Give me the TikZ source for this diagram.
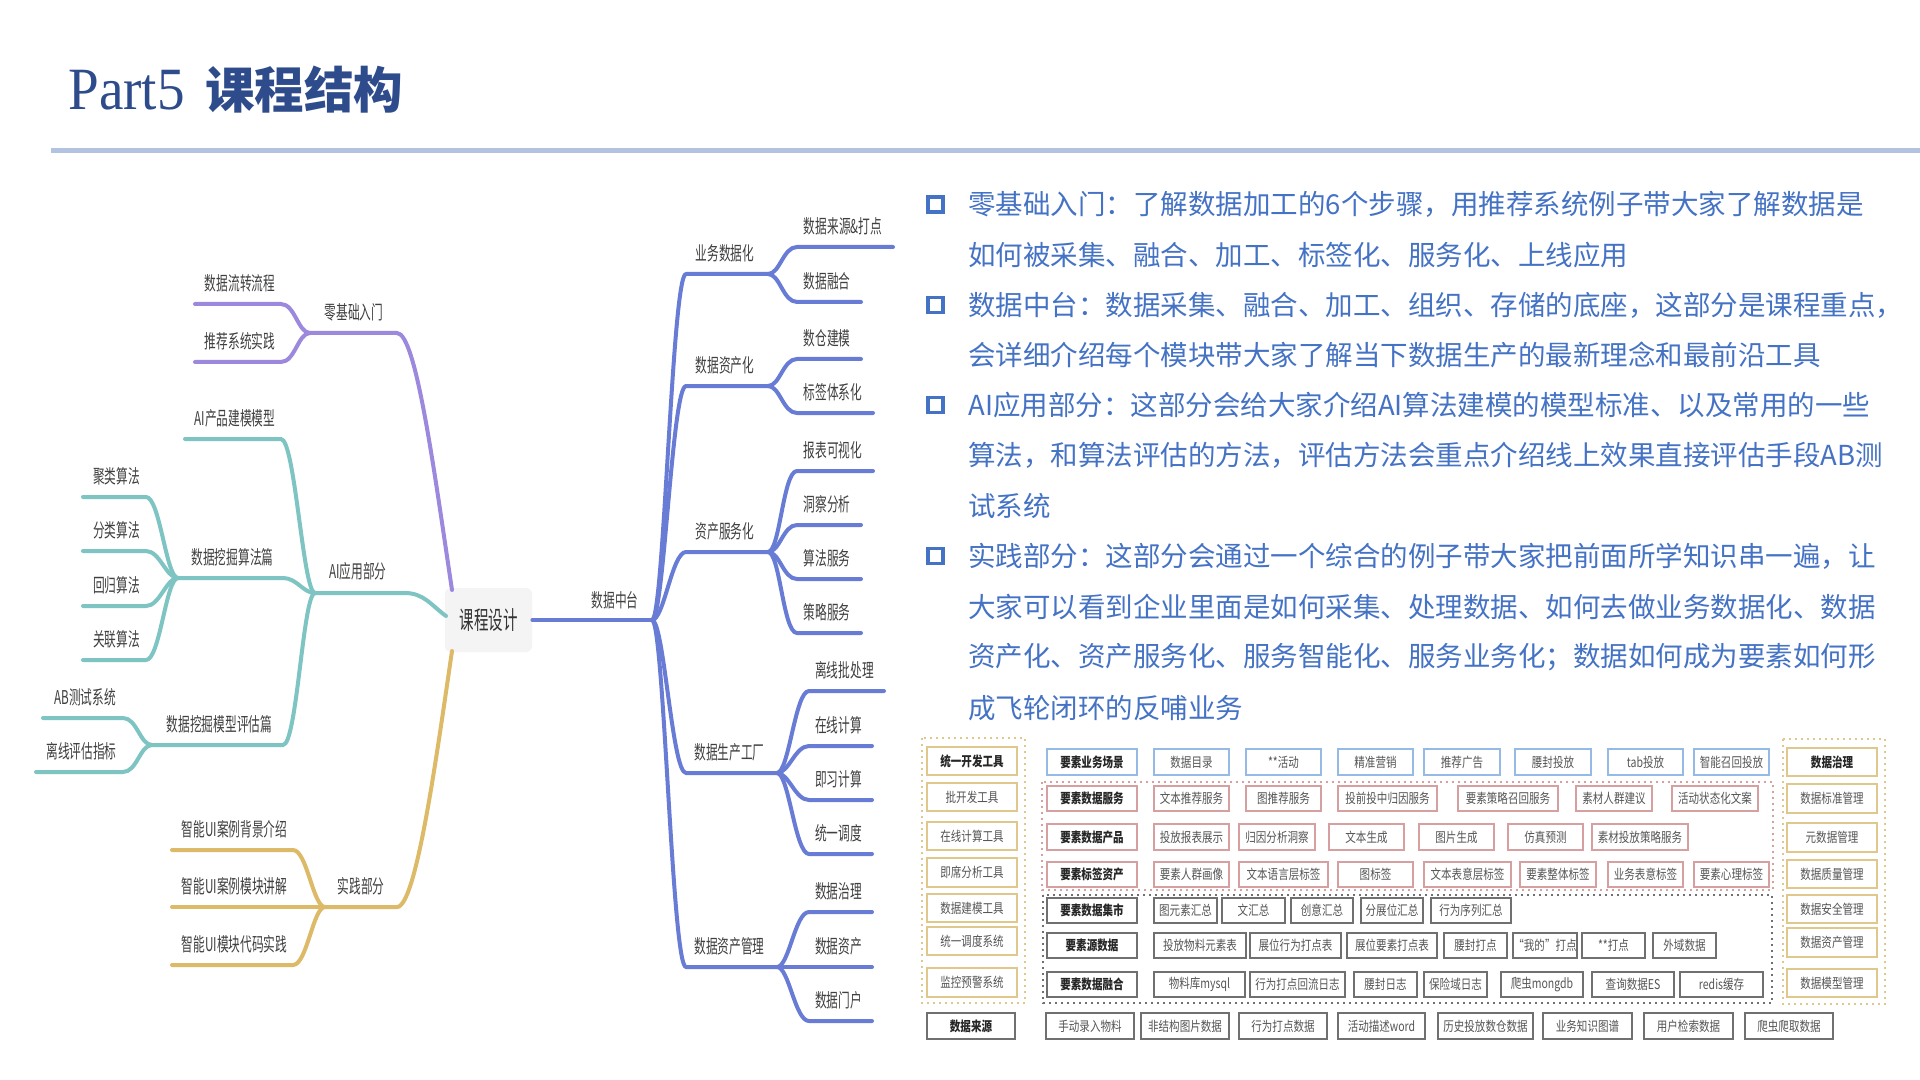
\documentclass[tikz,border=0pt]{standalone}
\usepackage{fontspec}
\setmainfont{Noto Sans CJK SC}
\newfontfamily\cjk{Noto Sans CJK SC}
\newfontfamily\mmfont[FakeStretch=0.615]{Noto Sans CJK SC}
\newfontfamily\rootfont[FakeStretch=0.58]{Noto Sans CJK SC}
\newfontfamily\gridfont[FakeStretch=0.78]{Noto Sans CJK SC}
\newfontfamily\titleserif[FakeStretch=0.92]{Liberation Serif}

\definecolor{titleblue}{RGB}{46,76,140}
\definecolor{rulecol}{RGB}{178,194,225}
\definecolor{txtblue}{RGB}{68,114,196}
\definecolor{mmpurple}{RGB}{156,137,221}
\definecolor{mmteal}{RGB}{126,196,194}
\definecolor{mmgold}{RGB}{221,186,104}
\definecolor{mmblue}{RGB}{104,124,214}
\definecolor{mmtext}{RGB}{64,64,64}
\definecolor{rootgray}{RGB}{244,244,244}
\definecolor{gbgold}{RGB}{224,200,140}
\definecolor{gbblue}{RGB}{150,186,230}
\definecolor{gbpink}{RGB}{214,160,160}
\definecolor{gbgray}{RGB}{112,112,112}
\definecolor{gbtext}{RGB}{85,85,85}

% grid box: name, style, x1, x2, y1, y2, text
\newcommand\gb[7]{%
  \pgfmathsetmacro\gbw{(#4-#3)*0.5}%
  \pgfmathsetmacro\gbh{(#6-#5)*0.5}%
  \node[#2, minimum width=\gbw pt, minimum height=\gbh pt] (#1) at ({(#3+#4)/2},{(#5+#6)/2}) {#7};}
% right leaf: fork, y, xstart, xend, name, label
\newcommand\rleaf[6]{%
  \coordinate (#5) at (#4,#2);
  \draw[lnB] (#1) .. controls +(12,0) and +(-14,0) .. (#3+4,#2) -- (#5);
  \node[mmlab] (#5-l) at ({(#3+#4)/2},#2-21) {#6};}
% left leaf: style, fork, y, xleft, xright, name, label
\newcommand\lleaf[7]{%
  \coordinate (#6) at (#4,#3);
  \draw[#1] (#2) .. controls +(-12,0) and +(14,0) .. (#5-4,#3) -- (#6);
  \node[mmlab] (#6-l) at ({(#4+#5)/2},#3-21) {#7};}

\begin{document}
\begin{tikzpicture}[x=0.5pt,y=-0.5pt,
  mmline/.style={line width=2pt, line cap=round, line join=round},
  lnP/.style={mmline, draw=mmpurple},
  lnT/.style={mmline, draw=mmteal},
  lnG/.style={mmline, draw=mmgold},
  lnB/.style={mmline, draw=mmblue},
  mmlab/.style={font=\mmfont\fontsize{9.5}{11}\selectfont, text=mmtext, inner sep=0pt},
  bodytxt/.style={anchor=west, inner sep=0pt, font=\cjk\fontsize{13.75}{16}\selectfont, text=txtblue},
  bulletbox/.style={draw=txtblue, line width=1.7pt, minimum size=7.5pt, inner sep=0pt},
  gbase/.style={rectangle, inner sep=0pt, font=\gridfont\fontsize{6.75}{8}\selectfont, text=gbtext, line width=1pt},
  bxgold/.style={gbase, draw=gbgold},
  bxblue/.style={gbase, draw=gbblue},
  bxpink/.style={gbase, draw=gbpink},
  bxgray/.style={gbase, draw=gbgray},
  bxhead/.style={font=\gridfont\bfseries\fontsize{6.75}{8}\selectfont, text=black!85},
  dotbox/.style={line width=1pt, dash pattern=on 1pt off 2pt}
]
\useasboundingbox (0,0) rectangle (1920,1080);
\fill[white] (0,0) rectangle (1920,1080);

% ---------- title ----------
\node[anchor=base west, inner sep=0pt, text=titleblue, font=\titleserif\fontsize{30}{34}\selectfont] (tpart) at (68,110) {Part5};
\node[anchor=base west, inner sep=0pt, text=titleblue, font=\cjk\bfseries\fontsize{24.75}{30}\selectfont] (tcn) at (205,109) {课程结构};
\coordinate (ruleL) at (51,151);
\coordinate (ruleR) at (1920,151);
\draw[rulecol, line width=2.5pt] (ruleL) -- (ruleR);

% ---------- mind map ----------
\node[fill=rootgray, rounded corners=3pt, minimum width=43.5pt, minimum height=32pt, inner sep=0pt,
      font=\rootfont\fontsize{12.5}{14}\selectfont, text=black!80] (root) at (488.5,620) {课程设计};
\coordinate (rootP) at (452,590);
\coordinate (rootT) at (446,616);
\coordinate (rootG) at (452,651);

% blue side
\coordinate (bF) at (652,620);
\draw[lnB] (root.east) -- (bF);
\node[mmlab] (bL) at (615,600) {数据中台};
\rleaf{bF}{274}{682}{768}{bA}{业务数据化}
\rleaf{bF}{386}{682}{768}{bB}{数据资产化}
\rleaf{bF}{552}{682}{768}{bC}{资产服务化}
\rleaf{bF}{773}{682}{777}{bD}{数据生产工厂}
\rleaf{bF}{967}{682}{777}{bE}{数据资产管理}
\rleaf{bA}{247}{793}{893}{bA1}{数据来源\&打点}
\rleaf{bA}{302}{793}{861}{bA2}{数据融合}
\rleaf{bB}{359}{793}{861}{bB1}{数仓建模}
\rleaf{bB}{413}{793}{873}{bB2}{标签体系化}
\rleaf{bC}{471}{793}{873}{bC1}{报表可视化}
\rleaf{bC}{525}{793}{861}{bC2}{洞察分析}
\rleaf{bC}{579}{793}{861}{bC3}{算法服务}
\rleaf{bC}{633}{793}{861}{bC4}{策略服务}
\rleaf{bD}{691}{805}{884}{bD1}{离线批处理}
\rleaf{bD}{746}{805}{872}{bD2}{在线计算}
\rleaf{bD}{800}{805}{872}{bD3}{即习计算}
\rleaf{bD}{854}{805}{872}{bD4}{统一调度}
\rleaf{bE}{912}{805}{872}{bE1}{数据治理}
\rleaf{bE}{967}{805}{872}{bE2}{数据资产}
\rleaf{bE}{1021}{805}{872}{bE3}{数据门户}

% purple
\coordinate (pF) at (310,333);
\draw[lnP] (pF) -- (397,333) .. controls (416,333) and (434,470) .. (rootP);
\node[mmlab] (pL) at (354,312) {零基础入门};
\lleaf{lnP}{pF}{304}{195}{285}{p1}{数据流转流程}
\lleaf{lnP}{pF}{362}{195}{285}{p2}{推荐系统实践}

% teal
\coordinate (tF) at (315,593);
\draw[lnT] (tF) -- (405,593) .. controls (424,593) and (432,606) .. (rootT);
\node[mmlab] (tL) at (358,571) {AI应用部分};
\lleaf{lnT}{tF}{439}{185}{285}{t1}{AI产品建模模型}
\lleaf{lnT}{tF}{578}{178}{287}{t2}{数据挖掘算法篇}
\lleaf{lnT}{tF}{745}{152}{287}{t3}{数据挖掘模型评估篇}
\lleaf{lnT}{t2}{497}{83}{150}{t21}{聚类算法}
\lleaf{lnT}{t2}{551}{83}{150}{t22}{分类算法}
\lleaf{lnT}{t2}{606}{83}{150}{t23}{回归算法}
\lleaf{lnT}{t2}{660}{83}{150}{t24}{关联算法}
\lleaf{lnT}{t3}{718}{43}{127}{t31}{AB测试系统}
\lleaf{lnT}{t3}{772}{36}{127}{t32}{离线评估指标}

% gold
\coordinate (gF) at (325,907);
\draw[lnG] (gF) -- (397,907) .. controls (416,907) and (436,760) .. (rootG);
\node[mmlab] (gL) at (361,886) {实践部分};
\lleaf{lnG}{gF}{850}{172}{297}{g1}{智能UI案例背景介绍}
\lleaf{lnG}{gF}{907}{172}{297}{g2}{智能UI案例模块讲解}
\lleaf{lnG}{gF}{965}{172}{297}{g3}{智能UI模块代码实践}

% ---------- right text ----------
\node[bulletbox] (bu1) at (935.5,204.5) {};
\node[bulletbox] (bu2) at (935.5,305) {};
\node[bulletbox] (bu3) at (935.5,405) {};
\node[bulletbox] (bu4) at (935.5,556) {};
\node[bodytxt] (l1) at (968,204.5) {零基础入门：了解数据加工的6个步骤，用推荐系统例子带大家了解数据是};
\node[bodytxt] (l2) at (968,254.7) {如何被采集、融合、加工、标签化、服务化、上线应用};
\node[bodytxt] (l3) at (968,305) {数据中台：数据采集、融合、加工、组织、存储的底座，这部分是课程重点，};
\node[bodytxt] (l4) at (968,355) {会详细介绍每个模块带大家了解当下数据生产的最新理念和最前沿工具};
\node[bodytxt] (l5) at (968,405) {AI应用部分：这部分会给大家介绍AI算法建模的模型标准、以及常用的一些};
\node[bodytxt] (l6) at (968,455.5) {算法，和算法评估的方法，评估方法会重点介绍线上效果直接评估手段AB测};
\node[bodytxt] (l7) at (968,506) {试系统};
\node[bodytxt] (l8) at (968,556) {实践部分：这部分会通过一个综合的例子带大家把前面所学知识串一遍，让};
\node[bodytxt] (l9) at (968,607) {大家可以看到企业里面是如何采集、处理数据、如何去做业务数据化、数据};
\node[bodytxt] (l10) at (968,657.6) {资产化、资产服务化、服务智能化、服务业务化；数据如何成为要素如何形};
\node[bodytxt] (l11) at (968,708) {成飞轮闭环的反哺业务};

% ---------- architecture grid ----------
\draw[dotbox, draw=gbgold] (922,738) rectangle (1025,1003);
\draw[dotbox, draw=gbpink] (1042,782) rectangle (1773,890);
\draw[dotbox, draw=gbgray] (1043,895) rectangle (1772,1003);
\draw[dotbox, draw=gbgold] (1783,739) rectangle (1885,1004);

\gb{lg1}{bxgold,bxhead}{927}{1017}{747}{775}{统一开发工具}
\gb{lg2}{bxgold}{927}{1017}{783}{811}{批开发工具}
\gb{lg3}{bxgold}{927}{1017}{822}{850}{在线计算工具}
\gb{lg4}{bxgold}{927}{1017}{858}{887}{即席分析工具}
\gb{lg5}{bxgold}{927}{1017}{894}{922}{数据建模工具}
\gb{lg6}{bxgold}{927}{1017}{927}{955}{统一调度系统}
\gb{lg7}{bxgold}{927}{1017}{968}{997}{监控预警系统}

\gb{rg1}{bxgold,bxhead}{1787}{1877}{748}{776}{数据治理}
\gb{rg2}{bxgold}{1787}{1877}{784}{813}{数据标准管理}
\gb{rg3}{bxgold}{1787}{1877}{823}{852}{元数据管理}
\gb{rg4}{bxgold}{1787}{1877}{860}{888}{数据质量管理}
\gb{rg5}{bxgold}{1787}{1877}{895}{923}{数据安全管理}
\gb{rg6}{bxgold}{1787}{1877}{928}{957}{数据资产管理}
\gb{rg7}{bxgold}{1787}{1877}{969}{997}{数据模型管理}

\gb{r1a}{bxblue,bxhead}{1047}{1137}{749}{775}{要素业务场景}
\gb{r1b}{bxblue}{1154}{1229}{749}{775}{数据目录}
\gb{r1c}{bxblue}{1246}{1321}{749}{775}{**活动}
\gb{r1d}{bxblue}{1338}{1413}{749}{775}{精准营销}
\gb{r1e}{bxblue}{1424}{1500}{749}{775}{推荐广告}
\gb{r1f}{bxblue}{1515}{1591}{749}{775}{腰封投放}
\gb{r1g}{bxblue}{1608}{1683}{749}{775}{tab投放}
\gb{r1h}{bxblue}{1694}{1769}{749}{775}{智能召回投放}

\gb{r2a}{bxpink,bxhead}{1047}{1137}{786}{811}{要素数据服务}
\gb{r2b}{bxpink}{1154}{1229}{786}{811}{文本推荐服务}
\gb{r2c}{bxpink}{1246}{1321}{786}{811}{图推荐服务}
\gb{r2d}{bxpink}{1338}{1437}{786}{811}{投前投中归因服务}
\gb{r2e}{bxpink}{1458}{1558}{786}{811}{要素策略召回服务}
\gb{r2f}{bxpink}{1576}{1652}{786}{811}{素材人群建议}
\gb{r2g}{bxpink}{1672}{1758}{786}{811}{活动状态化文案}

\gb{r3a}{bxpink,bxhead}{1047}{1137}{824}{850}{要素数据产品}
\gb{r3b}{bxpink}{1154}{1229}{824}{850}{投放报表展示}
\gb{r3c}{bxpink}{1239}{1315}{824}{850}{归因分析洞察}
\gb{r3d}{bxpink}{1329}{1404}{824}{850}{文本生成}
\gb{r3e}{bxpink}{1419}{1494}{824}{850}{图片生成}
\gb{r3f}{bxpink}{1508}{1583}{824}{850}{仿真预测}
\gb{r3g}{bxpink}{1592}{1688}{824}{850}{素材投放策略服务}

\gb{r4a}{bxpink,bxhead}{1047}{1137}{862}{887}{要素标签资产}
\gb{r4b}{bxpink}{1154}{1229}{862}{887}{要素人群画像}
\gb{r4c}{bxpink}{1239}{1328}{862}{887}{文本语言层标签}
\gb{r4d}{bxpink}{1338}{1413}{862}{887}{图标签}
\gb{r4e}{bxpink}{1424}{1511}{862}{887}{文本表意层标签}
\gb{r4f}{bxpink}{1520}{1596}{862}{887}{要素整体标签}
\gb{r4g}{bxpink}{1608}{1683}{862}{887}{业务表意标签}
\gb{r4h}{bxpink}{1694}{1769}{862}{887}{要素心理标签}

\gb{r5a}{bxgray,bxhead}{1047}{1137}{898}{923}{要素数据集市}
\gb{r5b}{bxgray}{1154}{1217}{898}{923}{图元素汇总}
\gb{r5c}{bxgray}{1222}{1285}{898}{923}{文汇总}
\gb{r5d}{bxgray}{1291}{1353}{898}{923}{创意汇总}
\gb{r5e}{bxgray}{1361}{1423}{898}{923}{分展位汇总}
\gb{r5f}{bxgray}{1431}{1511}{898}{923}{行为序列汇总}

\gb{r6a}{bxgray,bxhead}{1047}{1137}{933}{958}{要素源数据}
\gb{r6b}{bxgray}{1154}{1246}{933}{958}{投放物料元素表}
\gb{r6c}{bxgray}{1250}{1341}{933}{958}{展位行为打点表}
\gb{r6d}{bxgray}{1347}{1437}{933}{958}{展位要素打点表}
\gb{r6e}{bxgray}{1444}{1507}{933}{958}{腰封打点}
\gb{r6f}{bxgray}{1513}{1577}{933}{958}{“我的”打点}
\gb{r6g}{bxgray}{1582}{1645}{933}{958}{**打点}
\gb{r6h}{bxgray}{1653}{1716}{933}{958}{外域数据}

\gb{r7a}{bxgray,bxhead}{1047}{1137}{972}{997}{要素数据融合}
\gb{r7b}{bxgray}{1154}{1245}{972}{997}{物料库mysql}
\gb{r7c}{bxgray}{1250}{1345}{972}{997}{行为打点回流日志}
\gb{r7d}{bxgray}{1354}{1417}{972}{997}{腰封日志}
\gb{r7e}{bxgray}{1424}{1487}{972}{997}{保险域日志}
\gb{r7f}{bxgray}{1501}{1583}{972}{997}{爬虫mongdb}
\gb{r7g}{bxgray}{1592}{1674}{972}{997}{查询数据ES}
\gb{r7h}{bxgray}{1680}{1763}{972}{997}{redis缓存}

\gb{r8z}{bxgray,bxhead}{927}{1015}{1013}{1039}{数据来源}
\gb{r8a}{bxgray}{1046}{1134}{1013}{1039}{手动录入物料}
\gb{r8b}{bxgray}{1141}{1229}{1013}{1039}{非结构图片数据}
\gb{r8c}{bxgray}{1239}{1327}{1013}{1039}{行为打点数据}
\gb{r8d}{bxgray}{1338}{1425}{1013}{1039}{活动描述word}
\gb{r8e}{bxgray}{1438}{1533}{1013}{1039}{历史投放数仓数据}
\gb{r8f}{bxgray}{1543}{1632}{1013}{1039}{业务知识图谱}
\gb{r8g}{bxgray}{1644}{1733}{1013}{1039}{用户检索数据}
\gb{r8h}{bxgray}{1745}{1833}{1013}{1039}{爬虫爬取数据}
\end{tikzpicture}
\end{document}
